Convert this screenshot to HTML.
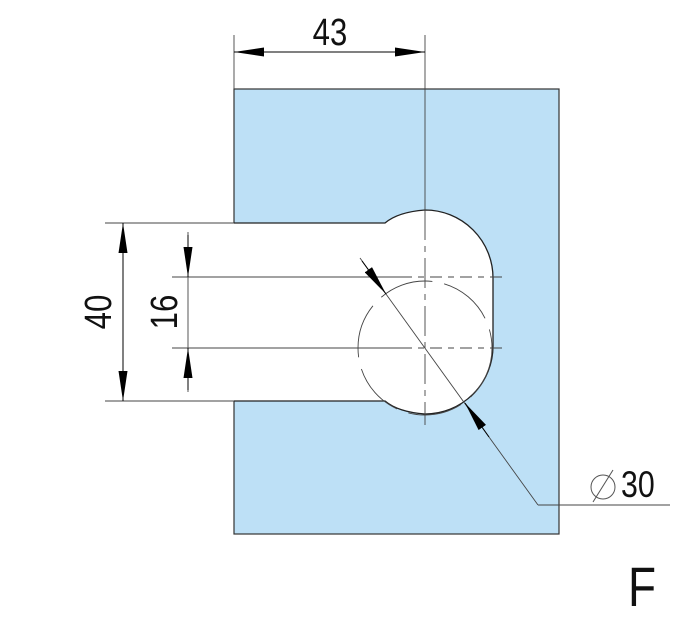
<!DOCTYPE html>
<html><head><style>body{margin:0;background:#fff}svg{display:block}text{font-family:"Liberation Sans",sans-serif;fill:#111}</style></head><body>
<svg width="693" height="622" viewBox="0 0 693 622">
<defs><marker id="a" markerWidth="30" markerHeight="9" refX="30" refY="4.5" orient="auto" markerUnits="userSpaceOnUse"><path d="M0,0 L30,4.5 L0,9Z" fill="#000"/></marker></defs>
<rect x="234" y="89" width="325" height="445" fill="#bde0f6" stroke="#333" stroke-width="1.2"/>
<path d="M100,223 L385,223 Q398,212 425,210 A68,68 0 0 1 493,278 L493,346 A68,68 0 0 1 425,414 Q398,412 385,401 L100,401 Z" fill="#fff"/>
<path d="M234,223 L385,223 Q398,212 425,210 A68,68 0 0 1 493,278 L493,346 A68,68 0 0 1 425,414 Q398,412 385,401 L234,401" fill="none" stroke="#222" stroke-width="1.3"/>
<g stroke="#444" stroke-width="0.9" fill="none">
<line x1="234" y1="35" x2="234" y2="89"/>
<line x1="425" y1="35" x2="425" y2="210"/>
<line x1="425" y1="210" x2="425" y2="425" stroke-dasharray="30,6,6,6"/>
<line x1="105" y1="223" x2="234" y2="223"/>
<line x1="105" y1="401" x2="234" y2="401"/>
<line x1="172" y1="277" x2="400" y2="277"/>
<line x1="400" y1="277" x2="505" y2="277" stroke-dasharray="12,6,6,6"/>
<line x1="172" y1="348" x2="400" y2="348"/>
<line x1="400" y1="348" x2="505" y2="348" stroke-dasharray="12,6,6,6"/>
<circle cx="425" cy="348" r="67" stroke-dasharray="55,12"/>
<line x1="360" y1="258" x2="538" y2="505"/>
<line x1="538" y1="505" x2="670" y2="505"/>
<line x1="188" y1="232" x2="188" y2="392"/>
</g>
<g stroke="#000" stroke-width="1">
<line x1="234" y1="52" x2="425" y2="52" marker-end="url(#a)"/><line x1="425" y1="52" x2="234" y2="52" marker-end="url(#a)"/>
<line x1="123" y1="401" x2="123" y2="223" marker-end="url(#a)"/><line x1="123" y1="223" x2="123" y2="401" marker-end="url(#a)"/>
<line x1="188" y1="235" x2="188" y2="277" marker-end="url(#a)"/><line x1="188" y1="390" x2="188" y2="348" marker-end="url(#a)"/>
<line x1="362" y1="261" x2="386" y2="294" marker-end="url(#a)"/>
<line x1="489" y1="437" x2="465" y2="403" marker-end="url(#a)"/>
</g>
<text x="330" y="45" font-size="38" text-anchor="middle" transform="translate(330,0) scale(0.82,1) translate(-330,0)">43</text>
<text transform="translate(111,312) rotate(-90) scale(0.82,1)" font-size="38" text-anchor="middle">40</text>
<text transform="translate(177,312) rotate(-90) scale(0.82,1)" font-size="38" text-anchor="middle">16</text>
<circle cx="603" cy="487" r="12" fill="none" stroke="#555" stroke-width="1"/>
<line x1="593" y1="502" x2="613" y2="470" stroke="#555" stroke-width="1"/>
<text x="621" y="497" font-size="37" transform="translate(621,0) scale(0.82,1) translate(-621,0)">30</text>
<text x="628" y="606" font-size="56" transform="translate(628,0) scale(0.82,1) translate(-628,0)">F</text>
</svg>
</body></html>
